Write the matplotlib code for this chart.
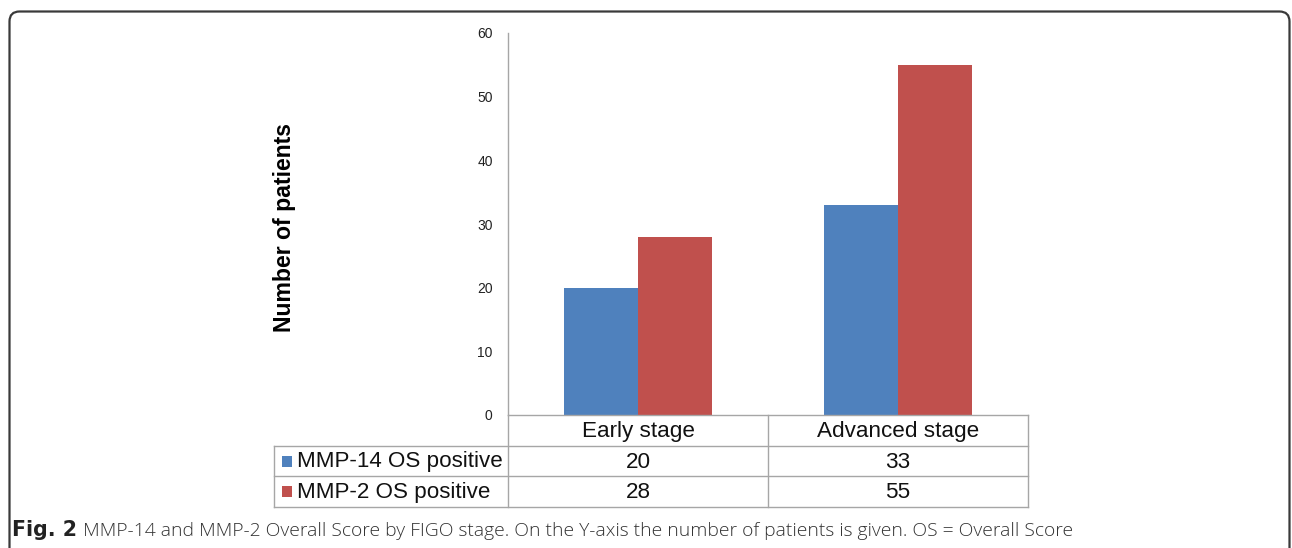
import matplotlib
matplotlib.use("Agg")
import matplotlib.pyplot as plt
import matplotlib.transforms as mtransforms
from matplotlib.patches import FancyBboxPatch, Rectangle
from matplotlib.lines import Line2D

# ---- data ----
categories = ["Early stage", "Advanced stage"]
series_names = ["MMP-14 OS positive", "MMP-2 OS positive"]
mmp14 = [20, 33]
mmp2 = [28, 55]
yticks = [0, 10, 20, 30, 40, 50, 60]
caption_bold = "Fig. 2"
caption_text = ("MMP-14 and MMP-2 Overall Score by FIGO stage. On the Y-axis the number "
                "of patients is given. OS = Overall Score")

colors = ["#4F81BD", "#C0504D"]
grid_col = "#A6A6A6"
plt.rcParams['font.family'] = ['Liberation Sans', 'DejaVu Sans']

W, H = 1292, 548
fig = plt.figure(figsize=(W / 100, H / 100), dpi=100)

def fx(px):
    return px / W

def fy(py):
    return 1 - py / H

ax_l, ax_r, ax_t, ax_b = 508, 1028, 33, 415
ax = fig.add_axes([fx(ax_l), fy(ax_b), (ax_r - ax_l) / W, (ax_b - ax_t) / H])
ax.set_xlim(-0.5, 1.5)
ax.set_ylim(0, 60)

bw = 0.285
xs = list(range(len(categories)))
ax.bar([x - bw / 2 for x in xs], mmp14, width=bw, color=colors[0], linewidth=0, zorder=2)
ax.bar([x + bw / 2 for x in xs], mmp2, width=bw, color=colors[1], linewidth=0, zorder=2)

ax.set_yticks(yticks)
ax.set_yticklabels([str(v) for v in yticks], fontsize=10, color="#222222")
ax.tick_params(axis='y', length=0, pad=11)
ax.set_xticks([])
for s in ["top", "right"]:
    ax.spines[s].set_visible(False)
for s in ["left", "bottom"]:
    ax.spines[s].set_color(grid_col)
    ax.spines[s].set_linewidth(1.0)

# ---- data table under axes ----
axh = ax_b - ax_t
def ay(py):
    # pixel y -> axes fraction
    return (ax_b - py) / axh

def dx(px):
    # pixel x -> data x
    return (px - ax_l) / ((ax_r - ax_l) / 2) - 0.5

trans = mtransforms.blended_transform_factory(ax.transData, ax.transAxes)
rows_y = [415, 446, 476, 507]
left_x = 274
def hline(x0, x1, y):
    ax.add_line(Line2D([x0, x1], [ay(y), ay(y)], transform=trans, color=grid_col,
                       lw=1.0, clip_on=False))
def vline(x, y0, y1):
    ax.add_line(Line2D([x, x], [ay(y0), ay(y1)], transform=trans, color=grid_col,
                       lw=1.0, clip_on=False))

for y in rows_y[1:]:
    hline(dx(left_x), 1.5, y)
vline(dx(left_x), rows_y[1], rows_y[3])
for xb in [-0.5, 0.5, 1.5]:
    vline(xb, rows_y[0], rows_y[3])

tab_fs = 16.2
for i, c in enumerate(categories):
    ax.text(i, ay((rows_y[0] + rows_y[1]) / 2 + 1), c, transform=trans, ha='center',
            va='center', fontsize=tab_fs, color="#111111", clip_on=False)

series_vals = [mmp14, mmp2]
for r, (name, vals) in enumerate(zip(series_names, series_vals)):
    yc = (rows_y[r + 1] + rows_y[r + 2]) / 2
    for i, v in enumerate(vals):
        ax.text(i, ay(yc + 1), str(v), transform=trans, ha='center', va='center',
                fontsize=tab_fs, color="#111111", clip_on=False)
    # legend key
    ax.add_patch(Rectangle((dx(282), ay(yc + 5.5)), dx(292) - dx(282), 11 / axh,
                           transform=trans, facecolor=colors[r], edgecolor='none',
                           clip_on=False))
    ax.text(dx(297), ay(yc + 1), name, transform=trans, ha='left', va='center',
            fontsize=16.1, color="#111111", clip_on=False)

# y label
fig.text(fx(284), fy(228), "Number of patients", rotation=90, ha='center', va='center',
         fontsize=16.6, fontweight='bold', color="#000000")

# caption
t1 = fig.text(fx(12), fy(536), caption_bold, fontsize=14.8, fontweight='bold',
              family=['DejaVu Sans'], color="#222222", va='baseline')
fig.canvas.draw()
ext = t1.get_window_extent()
fig.text(fx(ext.x1 + 6), fy(536), caption_text, fontsize=13.9,
         family=['Open Sans', 'DejaVu Sans'], color="#333333", va='baseline',
         fontweight='light')

# rounded frame
frame = FancyBboxPatch((9.5, -30), 1280, (H - 11.5) + 30,
                       boxstyle="round,pad=0,rounding_size=10",
                       transform=mtransforms.IdentityTransform(),
                       facecolor='none', edgecolor='#3a3a3a', linewidth=1.6)
fig.patches.append(frame)

fig.savefig("out.png", dpi=100)
